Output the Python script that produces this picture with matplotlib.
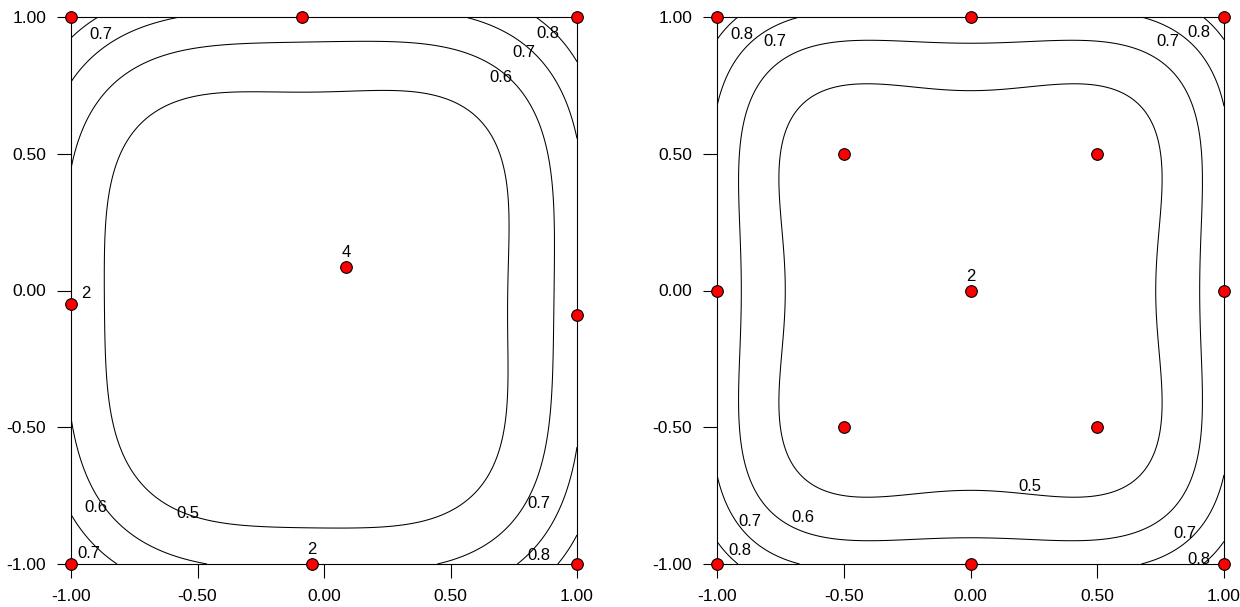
import numpy as np
import matplotlib
matplotlib.use("Agg")
import matplotlib.pyplot as plt

plt.rcParams['font.family'] = ['Liberation Sans', 'DejaVu Sans']

# ---- data ----
# Left design: design points (x1, x2) and replicate counts
left_x = [-1.0, -0.087, 1.0, -1.0, 0.087, 1.0, -1.0, -0.047, 1.0]
left_y = [1.0, 1.0, 1.0, -0.049, 0.086, -0.09, -1.0, -1.0, -1.0]
left_reps = [1, 1, 1, 2, 4, 1, 1, 2, 1]

# Right design
right_x = [-1.0, 0.0, 1.0, -0.5, 0.5, -1.0, 0.0, 1.0, -0.5, 0.5, -1.0, 0.0, 1.0]
right_y = [1.0, 1.0, 1.0, 0.5, 0.5, 0.0, 0.0, 0.0, -0.5, -0.5, -1.0, -1.0, -1.0]
right_reps = [1, 1, 1, 1, 1, 1, 2, 1, 1, 1, 1, 1, 1]

levels = [0.5, 0.6, 0.7, 0.8]
tick_vals = [-1.0, -0.5, 0.0, 0.5, 1.0]
tick_labels = ["-1.00", "-0.50", "0.00", "0.50", "1.00"]


def model_terms(a, b):
    a = np.asarray(a, float)
    b = np.asarray(b, float)
    return np.stack([np.ones_like(a), a, b, a * b, a ** 2, b ** 2], axis=-1)


def std_error(xs, ys, reps, gx, gy):
    px = np.repeat(xs, reps)
    py = np.repeat(ys, reps)
    X = model_terms(px, py)
    inv = np.linalg.inv(X.T @ X)
    F = model_terms(gx, gy)
    return np.sqrt(np.einsum('...i,ij,...j->...', F, inv, F))


g = np.linspace(-1, 1, 301)
GX, GY = np.meshgrid(g, g)

fig = plt.figure(figsize=(12.4, 6.07), dpi=100)
W, H = 1240, 607
ax1 = fig.add_axes([71 / W, 1 - 564 / H, (577 - 71) / W, (564 - 17) / H])
ax2 = fig.add_axes([717 / W, 1 - 564 / H, (1224 - 717) / W, (564 - 17) / H])

left_labels = [
    (-0.88, 0.935, 0.7), (0.885, 0.94, 0.8), (0.79, 0.87, 0.7), (0.70, 0.78, 0.6),
    (-0.90, -0.795, 0.6), (-0.54, -0.815, 0.5), (-0.93, -0.96, 0.7),
    (0.85, -0.78, 0.7), (0.85, -0.97, 0.8),
]
right_labels = [
    (-0.90, 0.935, 0.8), (-0.77, 0.91, 0.7), (0.78, 0.91, 0.7), (0.90, 0.945, 0.8),
    (0.235, -0.715, 0.5), (-0.66, -0.83, 0.6), (-0.87, -0.845, 0.7),
    (-0.91, -0.95, 0.8), (0.845, -0.89, 0.7), (0.90, -0.985, 0.8),
]

for ax, xs, ys, reps, labs in [(ax1, left_x, left_y, left_reps, left_labels),
                                (ax2, right_x, right_y, right_reps, right_labels)]:
    Z = std_error(xs, ys, reps, GX, GY)
    ax.contour(GX, GY, Z, levels=levels, colors='black', linewidths=0.75)
    for lx, ly, lv in labs:
        ax.text(lx, ly, f"{lv:.1f}", fontsize=12, ha='center', va='center')
    ax.scatter(xs, ys, s=70, c='#ff0000', edgecolors='black', linewidths=0.8,
               zorder=5, clip_on=False)
    for x, y, r in zip(xs, ys, reps):
        if r > 1:
            if x <= -0.99:
                ax.annotate(str(r), (x, y), xytext=(7, 2), textcoords='offset points',
                            fontsize=12, ha='left', va='bottom', zorder=6)
            else:
                ax.annotate(str(r), (x, y), xytext=(0, 5), textcoords='offset points',
                            fontsize=12, ha='center', va='bottom', zorder=6)
    ax.set_xlim(-1, 1)
    ax.set_ylim(-1, 1)
    ax.set_xticks(tick_vals)
    ax.set_xticklabels(tick_labels)
    ax.set_yticks(tick_vals)
    ax.set_yticklabels(tick_labels)
    ax.tick_params(direction='out', length=10, width=0.8, labelsize=12.5, pad=8)
    for sp in ax.spines.values():
        sp.set_linewidth(0.8)

fig.savefig("out.png", dpi=100)
